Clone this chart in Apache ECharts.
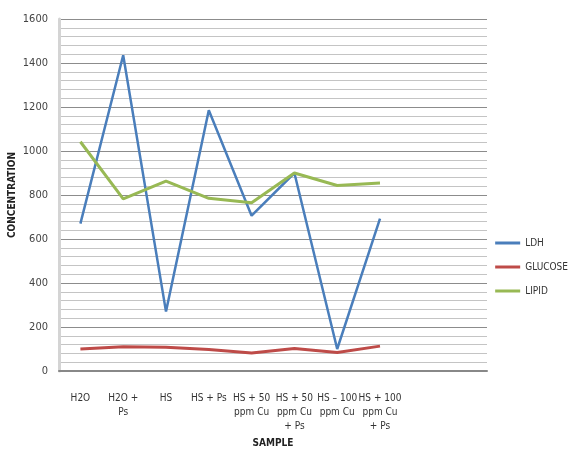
<!DOCTYPE html>
<html><head><meta charset="utf-8">
<script src="https://cdn.jsdelivr.net/npm/echarts@6/dist/echarts.min.js"></script>
<style>html,body{margin:0;padding:0;background:#fff}#c{width:578px;height:451px}</style>
</head><body><div id="c"></div>
<script>
const categories = ['H2O', 'H2O +\nPs', 'HS', 'HS + Ps', 'HS + 50\nppm Cu', 'HS + 50\nppm Cu\n+ Ps', 'HS – 100\nppm Cu', 'HS + 100\nppm Cu\n+ Ps', '', ''];
const ldh = [670, 1435, 270, 1185, 706, 900, 100, 693];
const glucose = [100, 110, 108, 98, 82, 102, 84, 113];
const lipid = [1042, 782, 863, 785, 765, 900, 843, 855];
const yTicks = [0, 200, 400, 600, 800, 1000, 1200, 1400, 1600];

const font = "'Liberation Sans Narrow', 'DejaVu Sans Condensed', 'Liberation Sans', sans-serif";
const chart = echarts.init(document.getElementById('c'));
chart.setOption({
  animation: false,
  grid: {left: 59, right: 91, top: 19, bottom: 80, containLabel: false, outerBoundsMode: 'none'},
  legend: {
    orient: 'vertical', right: 5, top: 233,
    itemWidth: 25, itemHeight: 3, itemGap: 14, icon: 'rect',
    textStyle: {fontFamily: font, fontSize: 10, color: '#333'},
    data: ['LDH', 'GLUCOSE', 'LIPID']
  },
  xAxis: {
    type: 'category', data: categories, boundaryGap: true,
    name: 'SAMPLE', nameLocation: 'middle', nameGap: 67,
    nameTextStyle: {fontFamily: font, fontSize: 10, fontWeight: 'bold', color: '#222'},
    axisLine: {lineStyle: {color: '#888', width: 2}},
    axisTick: {show: false},
    axisLabel: {interval: 0, fontFamily: font, fontSize: 10, color: '#333', lineHeight: 14, margin: 20}
  },
  yAxis: {
    type: 'value', min: yTicks[0], max: yTicks[yTicks.length - 1], interval: 200,
    name: 'CONCENTRATION', nameLocation: 'middle', nameGap: 42, nameRotate: 90, nameMoveOverlap: false,
    nameTextStyle: {fontFamily: font, fontSize: 10, fontWeight: 'bold', color: '#222'},
    axisLine: {show: true, lineStyle: {color: '#d4d4d4', width: 3}},
    axisTick: {show: false},
    axisLabel: {fontFamily: font, fontSize: 11, color: '#444', margin: 11, formatter: v => String(v)},
    splitLine: {lineStyle: {color: '#8c8c8c', width: 1}},
    minorTick: {show: false, splitNumber: 5},
    minorSplitLine: {show: true, lineStyle: {color: '#c4c4c4', width: 1}}
  },
  series: [
    {name: 'LDH', type: 'line', data: ldh, symbol: 'none', lineStyle: {color: '#4a7ebb', width: 2.5}, itemStyle: {color: '#4a7ebb'}},
    {name: 'GLUCOSE', type: 'line', data: glucose, symbol: 'none', lineStyle: {color: '#be4b48', width: 3}, itemStyle: {color: '#be4b48'}},
    {name: 'LIPID', type: 'line', data: lipid, symbol: 'none', lineStyle: {color: '#98b954', width: 3}, itemStyle: {color: '#98b954'}}
  ]
});
</script></body></html>
